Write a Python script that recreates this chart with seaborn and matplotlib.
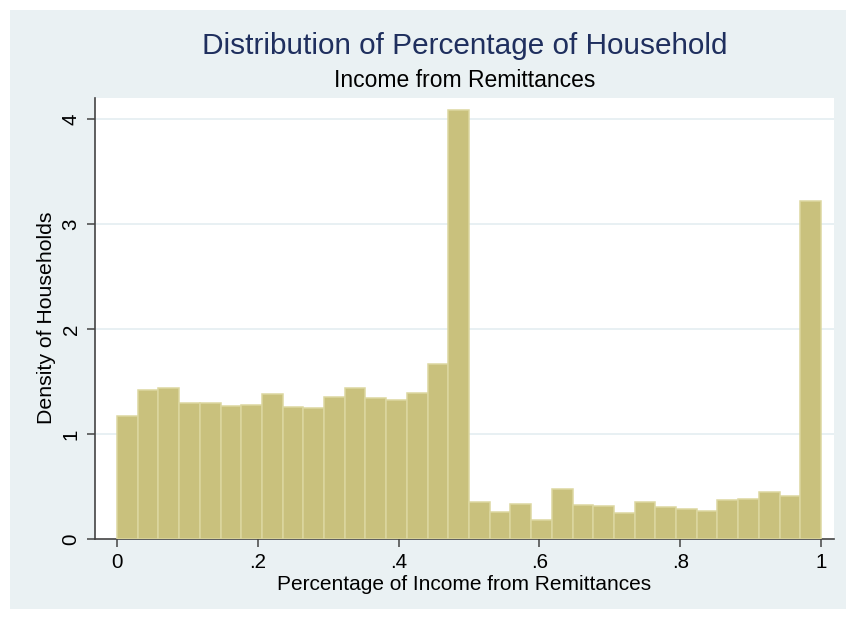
import numpy as np
import pandas as pd
import seaborn as sns
import matplotlib
matplotlib.use("Agg")
import matplotlib.pyplot as plt
from matplotlib.patches import Rectangle

# ---- data (bin densities, 34 equal bins on [0, 1]) ----
bin_start = 0.0
bin_end = 1.0
n_bins = 34
densities = [1.175, 1.425, 1.438, 1.30, 1.30, 1.268, 1.278, 1.38, 1.256, 1.246,
             1.358, 1.438, 1.348, 1.323, 1.393, 1.671, 4.089,
             0.357, 0.255, 0.334, 0.178, 0.48, 0.325, 0.312, 0.245, 0.357,
             0.302, 0.29, 0.267, 0.372, 0.385, 0.449, 0.41, 3.226]
x_ticks = [0, 0.2, 0.4, 0.6, 0.8, 1.0]
x_ticklabels = ["0", ".2", ".4", ".6", ".8", "1"]
y_ticks = [0, 1, 2, 3, 4]
y_ticklabels = ["0", "1", "2", "3", "4"]
title = "Distribution of Percentage of Household"
subtitle = "Income from Remittances"
xlabel = "Percentage of Income from Remittances"
ylabel = "Density of Households"

edges = np.linspace(bin_start, bin_end, n_bins + 1)
centers = (edges[:-1] + edges[1:]) / 2
df = pd.DataFrame({"x": centers, "w": densities})

sns.set_theme(style="white")
plt.rcParams["font.family"] = ["Liberation Sans", "DejaVu Sans"]

W, H = 846, 619
fig = plt.figure(figsize=(W / 100, H / 100), dpi=100, facecolor="white")

# Stata-like graph region background
bg = "#EAF1F3"
fig.patches.append(Rectangle((10 / W, (H - 609) / H), (W - 10) / W, (609 - 10) / H,
                             transform=fig.transFigure, facecolor=bg,
                             edgecolor="none", zorder=-10))

ax_l, ax_r, ax_t, ax_b = 94.5, 834, 97.5, 539
ax_w, ax_h = ax_r - ax_l, ax_b - ax_t
ax = fig.add_axes([ax_l / W, (H - ax_b) / H, ax_w / W, ax_h / H])
ax.set_facecolor("white")

sns.histplot(data=df, x="x", weights="w", bins=n_bins,
             binrange=(bin_start, bin_end), stat="count", ax=ax,
             color="#C9C17D", edgecolor="#DCD7A0", linewidth=1.1, alpha=1.0,
             zorder=3)

ax.set_xlim(-0.032, 1.0185)
ax.set_ylim(0, 4.209)

ax.set_yticks(y_ticks)
ax.set_yticklabels(y_ticklabels, rotation=90, va="center", fontsize=14.8)
ax.set_xticks(x_ticks)
ax.set_xticklabels(x_ticklabels, fontsize=14.8)

for yv in y_ticks[1:]:
    ax.axhline(yv, color="#E4EDF1", linewidth=1.2, zorder=1)

for s in ["top", "right"]:
    ax.spines[s].set_visible(False)
for s in ["left", "bottom"]:
    ax.spines[s].set_color("#444444")
    ax.spines[s].set_linewidth(1.2)

ax.tick_params(axis="both", which="major", direction="out", length=6,
               width=1.1, color="#444444", labelcolor="black", pad=4,
               bottom=True, left=True)

ax.set_xlabel(xlabel, fontsize=15, color="black")
ax.xaxis.label.set_va("baseline")
ax.xaxis.set_label_coords(0.5, (ax_b - 590) / ax_h)

ax.set_ylabel(ylabel, fontsize=15.3, color="black")
ax.yaxis.label.set_va("baseline")
ax.yaxis.set_label_coords((51.5 - ax_l) / ax_w, 0.5)

cx = (ax_l + ax_r) / 2 / W
fig.text(cx, 1 - 54 / H, title, ha="center", va="baseline", fontsize=21.4,
         color="#1F2F5E")
fig.text(cx, 1 - 86.7 / H, subtitle, ha="center", va="baseline", fontsize=16.5,
         color="black")

fig.savefig("out.png", dpi=100, facecolor="white")
